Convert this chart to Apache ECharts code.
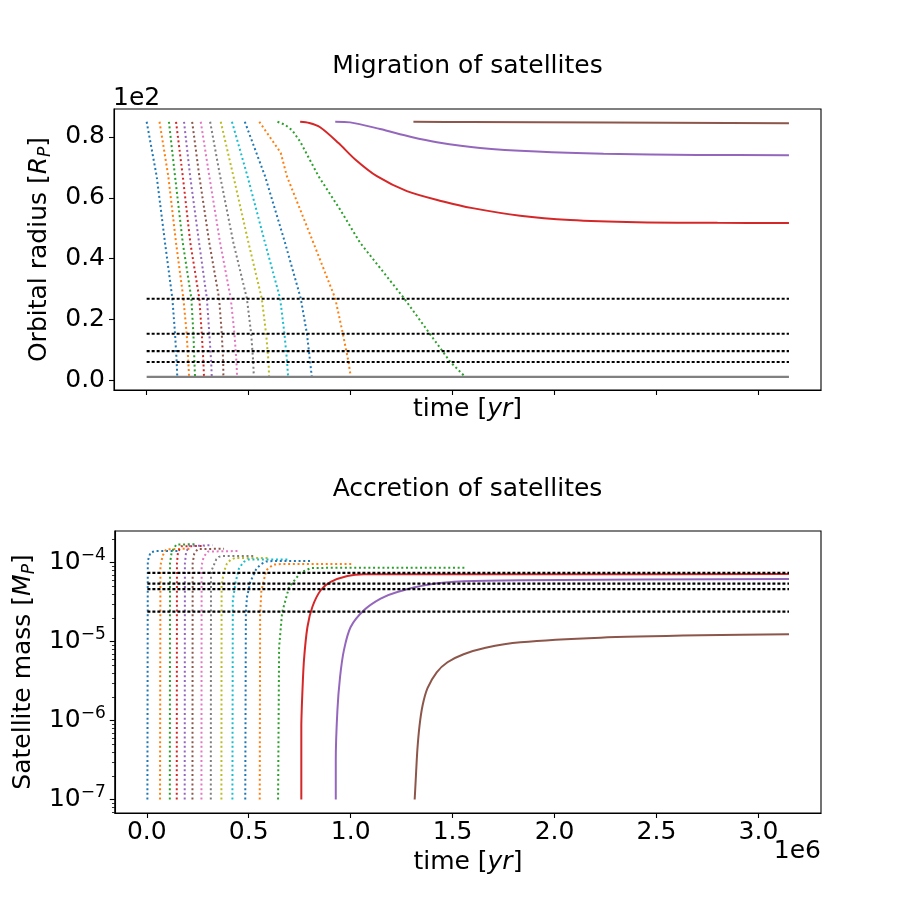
<!DOCTYPE html>
<html>
<head>
<meta charset="utf-8">
<script src="https://cdn.jsdelivr.net/npm/echarts@6/dist/echarts.min.js"></script>
<style>
  html, body { margin: 0; padding: 0; background: #fff; }
  #chart { width: 913px; height: 913px; }
</style>
</head>
<body>
<div id="chart"></div>
<script>
// time is in units of 1e6 yr, orbital radius in units of 1e2 R_P (offset texts "1e6" / "1e2")

// migration of satellites: [time, radius]
var mig01 = [[0.003, 0.85], [0.052, 0.671], [0.093, 0.452], [0.129, 0.269], [0.142, 0.154], [0.150, 0.061], [0.153, 0.011]];
var mig02 = [[0.066, 0.85], [0.109, 0.671], [0.147, 0.452], [0.183, 0.269], [0.199, 0.154], [0.207, 0.061], [0.211, 0.011]];
var mig03 = [[0.112, 0.85], [0.142, 0.671], [0.180, 0.452], [0.222, 0.269], [0.232, 0.154], [0.237, 0.061], [0.240, 0.011]];
var mig04 = [[0.147, 0.85], [0.180, 0.671], [0.217, 0.452], [0.261, 0.269], [0.273, 0.154], [0.281, 0.061], [0.284, 0.011]];
var mig05 = [[0.186, 0.85], [0.216, 0.671], [0.260, 0.452], [0.298, 0.269], [0.310, 0.154], [0.319, 0.061], [0.322, 0.011]];
var mig06 = [[0.226, 0.85], [0.261, 0.671], [0.310, 0.452], [0.358, 0.269], [0.371, 0.154], [0.378, 0.061], [0.379, 0.011]];
var mig07 = [[0.268, 0.85], [0.310, 0.671], [0.363, 0.452], [0.415, 0.269], [0.433, 0.154], [0.443, 0.061], [0.446, 0.011]];
var mig08 = [[0.314, 0.85], [0.363, 0.671], [0.428, 0.452], [0.494, 0.269], [0.515, 0.154], [0.525, 0.061], [0.528, 0.011]];
var mig09 = [[0.366, 0.85], [0.428, 0.671], [0.502, 0.452], [0.567, 0.269], [0.588, 0.154], [0.600, 0.061], [0.603, 0.011]];
var mig10 = [[0.421, 0.85], [0.497, 0.671], [0.583, 0.452], [0.657, 0.269], [0.678, 0.154], [0.691, 0.061], [0.696, 0.011]];
var mig11 = [[0.484, 0.85], [0.583, 0.671], [0.681, 0.452], [0.758, 0.269], [0.788, 0.154], [0.804, 0.061], [0.812, 0.011]];
var mig12 = [[0.555, 0.85], [0.660, 0.748], [0.690, 0.671], [0.820, 0.452], [0.927, 0.269], [0.964, 0.154], [0.992, 0.061], [1.003, 0.011]];
var mig13 = [[0.644, 0.85], [0.681, 0.84], [0.716, 0.822], [0.755, 0.785], [0.845, 0.671], [0.951, 0.561], [1.049, 0.452],
             [1.265, 0.269], [1.389, 0.154], [1.490, 0.061], [1.564, 0.011]];
var mig14 = [[0.755, 0.85], [0.80, 0.846], [0.853, 0.832], [0.943, 0.780], [1.025, 0.726], [1.131, 0.671], [1.278, 0.622],
             [1.456, 0.588], [1.600, 0.566], [1.833, 0.541], [2.078, 0.527], [2.405, 0.520], [2.8, 0.518], [3.15, 0.517]];
var mig15 = [[0.927, 0.85], [1.00, 0.848], [1.147, 0.826], [1.30, 0.800], [1.425, 0.783], [1.637, 0.764], [1.915, 0.752],
             [2.242, 0.745], [2.7, 0.741], [3.15, 0.740]];
var mig16 = [[1.310, 0.85], [1.588, 0.849], [3.15, 0.845]];

// accretion of satellites: [time, mass in M_P]
var acc01 = [[0.003, 1e-7], [0.005, 1.05e-4], [0.018, 1.34e-4], [0.042, 1.40e-4], [0.153, 1.40e-4]];
var acc02 = [[0.065, 1e-7], [0.067, 9.2e-5], [0.079, 1.24e-4], [0.095, 1.47e-4], [0.211, 1.50e-4]];
var acc03 = [[0.113, 1e-7], [0.114, 9.8e-5], [0.122, 1.36e-4], [0.145, 1.69e-4], [0.240, 1.71e-4]];
var acc04 = [[0.147, 1e-7], [0.148, 9.8e-5], [0.153, 1.36e-4], [0.169, 1.61e-4], [0.284, 1.62e-4]];
var acc05 = [[0.186, 1e-7], [0.187, 9.8e-5], [0.193, 1.36e-4], [0.208, 1.62e-4], [0.322, 1.66e-4]];
var acc06 = [[0.224, 1e-7], [0.225, 9.8e-5], [0.233, 1.30e-4], [0.250, 1.48e-4], [0.379, 1.50e-4]];
var acc07 = [[0.268, 1e-7], [0.269, 9.2e-5], [0.279, 1.18e-4], [0.300, 1.38e-4], [0.446, 1.40e-4]];
var acc08 = [[0.314, 1e-7], [0.315, 7.6e-5], [0.328, 9.2e-5], [0.341, 1.10e-4], [0.353, 1.18e-4], [0.373, 1.21e-4], [0.528, 1.21e-4]];
var acc09 = [[0.366, 1e-7], [0.367, 5.2e-5], [0.378, 7.6e-5], [0.393, 9.7e-5], [0.412, 1.09e-4], [0.432, 1.14e-4], [0.603, 1.14e-4]];
var acc10 = [[0.420, 1e-7], [0.422, 3.3e-5], [0.436, 5.7e-5], [0.452, 8.4e-5], [0.475, 1.02e-4], [0.498, 1.09e-4], [0.696, 1.09e-4]];
var acc11 = [[0.483, 1e-7], [0.486, 2.3e-5], [0.491, 3.6e-5], [0.508, 5.7e-5], [0.538, 8.4e-5], [0.562, 9.6e-5], [0.585, 1.03e-4],
             [0.62, 1.05e-4], [0.812, 1.05e-4]];
var acc12 = [[0.554, 1e-7], [0.556, 2.2e-5], [0.562, 4.4e-5], [0.586, 8.0e-5], [0.620, 9.4e-5], [0.66, 9.6e-5], [1.003, 9.6e-5]];
var acc13 = [[0.644, 1e-7], [0.649, 8.5e-6], [0.664, 2.35e-5], [0.698, 4.9e-5], [0.755, 7.5e-5], [0.804, 8.5e-5], [0.9, 8.6e-5], [1.564, 8.6e-5]];
var acc14 = [[0.758, 1e-7], [0.758, 8.3e-7], [0.763, 2.2e-6], [0.771, 5.8e-6], [0.788, 1.53e-5], [0.812, 2.74e-5], [0.853, 4.46e-5],
             [0.902, 5.68e-5], [0.984, 6.76e-5], [1.065, 7.1e-5], [1.833, 7.1e-5], [3.15, 7.15e-5]];
var acc15 = [[0.927, 1e-7], [0.927, 3.1e-7], [0.935, 1.35e-6], [0.948, 3.56e-6], [0.967, 7.8e-6], [1.0, 1.53e-5], [1.065, 2.49e-5],
             [1.147, 3.5e-5], [1.229, 4.25e-5], [1.392, 5.31e-5], [1.555, 5.8e-5], [1.833, 5.97e-5], [3.15, 6.2e-5]];
var acc16 = [[1.314, 1e-7], [1.319, 1.75e-7], [1.327, 4.2e-7], [1.338, 8.7e-7], [1.353, 1.56e-6], [1.377, 2.57e-6], [1.422, 4.08e-6],
             [1.475, 5.47e-6], [1.554, 6.9e-6], [1.662, 8.35e-6], [1.833, 9.8e-6], [2.225, 1.12e-5], [2.716, 1.2e-5], [3.15, 1.24e-5]];

var migration = [mig01, mig02, mig03, mig04, mig05, mig06, mig07, mig08, mig09, mig10, mig11, mig12, mig13, mig14, mig15, mig16];
var accretion = [acc01, acc02, acc03, acc04, acc05, acc06, acc07, acc08, acc09, acc10, acc11, acc12, acc13, acc14, acc15, acc16];
var lostCount = 13;   // the first 13 satellites fall onto the planet (dotted)

// reference moons (black dotted) and planet radius (grey)
var moonRadii = [0.268, 0.153, 0.096, 0.060];
var moonMasses = [7.4e-5, 5.4e-5, 4.6e-5, 2.4e-5];
var planetRadius = 0.011;
var tStart = 0.003, tEnd = 3.15;

var xTicks = [0, 0.5, 1.0, 1.5, 2.0, 2.5, 3.0];
var rTicks = [0, 0.2, 0.4, 0.6, 0.8];
var mTicks = [1e-7, 1e-6, 1e-5, 1e-4];
var mMinorTicks = [7e-8, 8e-8, 9e-8,
  2e-7, 3e-7, 4e-7, 5e-7, 6e-7, 7e-7, 8e-7, 9e-7,
  2e-6, 3e-6, 4e-6, 5e-6, 6e-6, 7e-6, 8e-6, 9e-6,
  2e-5, 3e-5, 4e-5, 5e-5, 6e-5, 7e-5, 8e-5, 9e-5, 2e-4];

var tab10 = ['#1f77b4', '#ff7f0e', '#2ca02c', '#d62728', '#9467bd', '#8c564b', '#e377c2', '#7f7f7f', '#bcbd22', '#17becf'];
var FONT = 'DejaVu Sans';

var chart = echarts.init(document.getElementById('chart'), null, { renderer: 'canvas' });

var richText = {
  i: { fontFamily: FONT, fontSize: 25, fontStyle: 'italic', lineHeight: 30 },
  sub: { fontFamily: FONT, fontSize: 17, fontStyle: 'italic', lineHeight: 12, verticalAlign: 'bottom' },
  sup: { fontFamily: FONT, fontSize: 17, lineHeight: 12, verticalAlign: 'top' }
};

function baseX(grid, withLabels) {
  return {
    type: 'value', gridIndex: grid, min: -0.157, max: 3.307,
    axisLine: { onZero: false, lineStyle: { color: '#000', width: 1.1 } },
    axisTick: { show: true, customValues: xTicks, length: 5, lineStyle: { color: '#000', width: 1.1 } },
    axisLabel: {
      show: withLabels, customValues: xTicks, margin: 4, color: '#000',
      fontFamily: FONT, fontSize: 25, lineHeight: 30,
      formatter: function (v) { return v.toFixed(1); }
    },
    splitLine: { show: false },
    name: 'time [{i|yr}]', nameLocation: 'middle', nameGap: withLabels ? 20 : 4,
    nameTextStyle: { color: '#000', fontFamily: FONT, fontSize: 25, lineHeight: 30, verticalAlign: 'top', rich: richText }
  };
}

function curveStyle(i) {
  return { color: tab10[i % 10], width: 2, type: i < lostCount ? [2, 2.7] : 'solid', cap: 'butt' };
}

var series = [];
migration.forEach(function (d, i) {
  series.push({
    type: 'line', xAxisIndex: 0, yAxisIndex: 0, data: d, showSymbol: false, z: 2,
    smooth: i < lostCount ? false : 0.3,
    lineStyle: curveStyle(i)
  });
});
moonRadii.forEach(function (r) {
  series.push({
    type: 'line', xAxisIndex: 0, yAxisIndex: 0, data: [[tStart, r], [tEnd, r]], showSymbol: false, z: 3,
    lineStyle: { color: '#000', width: 2.2, type: [3, 2], cap: 'butt' }
  });
});
series.push({
  type: 'line', xAxisIndex: 0, yAxisIndex: 0, data: [[tStart, planetRadius], [tEnd, planetRadius]], showSymbol: false, z: 3,
  lineStyle: { color: '#808080', width: 2.2 }
});
accretion.forEach(function (d, i) {
  series.push({
    type: 'line', xAxisIndex: 1, yAxisIndex: 1, data: d, showSymbol: false, z: 2,
    smooth: i < lostCount ? false : 0.25,
    lineStyle: curveStyle(i)
  });
});
moonMasses.forEach(function (m) {
  series.push({
    type: 'line', xAxisIndex: 1, yAxisIndex: 1, data: [[tStart, m], [tEnd, m]], showSymbol: false, z: 3,
    lineStyle: { color: '#000', width: 2.2, type: [3, 2], cap: 'butt' }
  });
});

var textFont = '25px "DejaVu Sans"';
var option = {
  animation: false,
  backgroundColor: '#fff',
  graphic: [
    { type: 'text', x: 467.5, y: 66, style: { text: 'Migration of satellites', font: textFont, fill: '#000', align: 'center', verticalAlign: 'middle' } },
    { type: 'text', x: 467.5, y: 489, style: { text: 'Accretion of satellites', font: textFont, fill: '#000', align: 'center', verticalAlign: 'middle' } },
    { type: 'text', x: 113, y: 98, style: { text: '1e2', font: textFont, fill: '#000', align: 'left', verticalAlign: 'middle' } },
    { type: 'text', x: 821, y: 851, style: { text: '1e6', font: textFont, fill: '#000', align: 'right', verticalAlign: 'middle' } }
  ],
  grid: [
    { left: 114, top: 109, width: 707, height: 281, show: true, borderColor: '#000', borderWidth: 1.1, containLabel: false },
    { left: 114, top: 531, width: 707, height: 282, show: true, borderColor: '#000', borderWidth: 1.1, containLabel: false }
  ],
  xAxis: [baseX(0, false), baseX(1, true)],
  yAxis: [
    {
      type: 'value', gridIndex: 0, min: -0.032, max: 0.892, position: 'left',
      axisLine: { show: true, onZero: false, lineStyle: { color: '#000', width: 1.1 } },
      axisTick: { show: true, customValues: rTicks, length: 5, lineStyle: { color: '#000', width: 1.1 } },
      axisLabel: {
        customValues: rTicks, margin: 9, color: '#000', fontFamily: FONT, fontSize: 25, lineHeight: 30,
        formatter: function (v) { return v.toFixed(1); }
      },
      splitLine: { show: false },
      name: 'Orbital radius [{i|R}{sub|P}]', nameLocation: 'middle', nameRotate: 90, nameGap: 48,
      nameTextStyle: { color: '#000', fontFamily: FONT, fontSize: 25, lineHeight: 30, rich: richText }
    },
    {
      type: 'log', logBase: 10, gridIndex: 1, min: 6.76e-8, max: 2.51e-4, position: 'left',
      axisLine: { show: true, onZero: false, lineStyle: { color: '#000', width: 1.1 } },
      axisTick: { show: true, customValues: mTicks, length: 5, lineStyle: { color: '#000', width: 1.1 } },
      axisLabel: {
        customValues: mTicks, margin: 9, color: '#000', fontFamily: FONT, fontSize: 25, lineHeight: 30,
        formatter: function (v) { return '10{sup|\u2212' + Math.abs(Math.round(Math.log10(v))) + '}'; },
        rich: richText
      },
      splitLine: { show: false },
      name: 'Satellite mass [{i|M}{sub|P}]', nameLocation: 'middle', nameRotate: 90, nameGap: 66,
      nameTextStyle: { color: '#000', fontFamily: FONT, fontSize: 25, lineHeight: 30, rich: richText }
    },
    {
      type: 'log', logBase: 10, gridIndex: 1, min: 6.76e-8, max: 2.51e-4, position: 'left', offset: 0,
      axisLine: { show: false, onZero: false },
      axisTick: { show: true, customValues: mMinorTicks, length: 2.8, lineStyle: { color: '#000', width: 0.8 } },
      axisLabel: { show: false },
      splitLine: { show: false }
    }
  ],
  series: series
};
chart.setOption(option);
</script>
</body>
</html>
